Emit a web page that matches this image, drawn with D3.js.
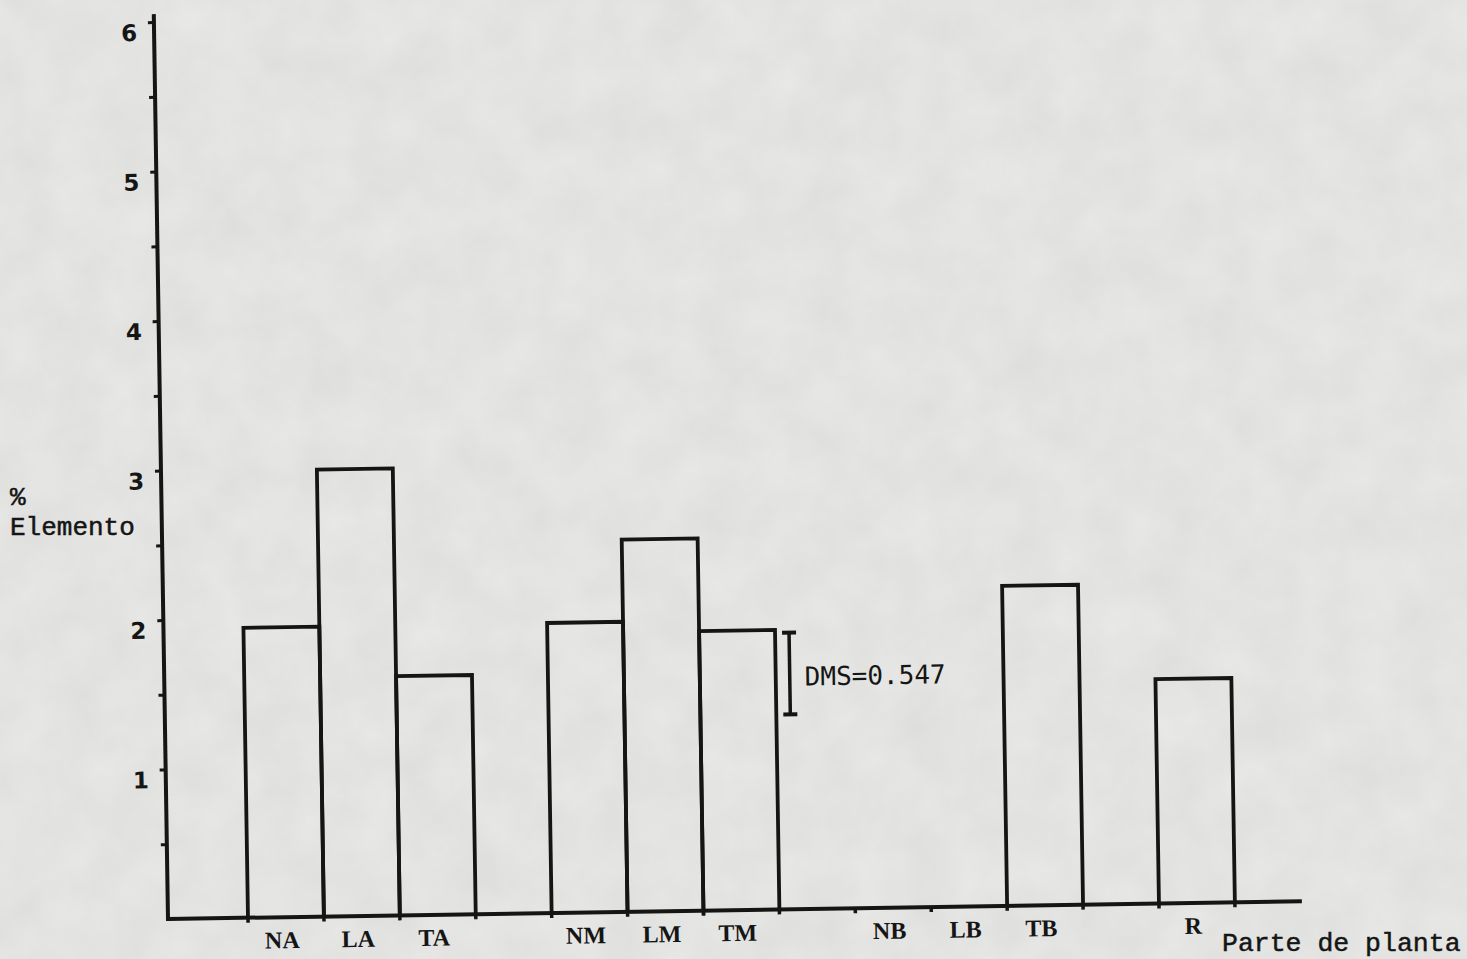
<!DOCTYPE html>
<html>
<head>
<meta charset="utf-8">
<script src="https://cdn.jsdelivr.net/npm/d3@7"></script>
<style>
  html, body { margin: 0; padding: 0; background: #e6e6e4; }
  svg { display: block; }
</style>
</head>
<body>
<svg id="chart" width="1467" height="959"></svg>
<script>
// groups of plant parts, in the order they sit along the x axis (a blank slot between groups)
var groups = [["NA", "LA", "TA"], ["NM", "LM", "TM"], ["NB", "LB", "TB"], ["R"]];
var categories = ["NA", "LA", "TA", "NM", "LM", "TM", "NB", "LB", "TB", "R"];
var values = [1.94, 2.99, 1.60, 1.94, 2.49, 1.87, 0, 0, 2.14, 1.50];
var yTicks = [0.5, 1, 1.5, 2, 2.5, 3, 3.5, 4, 4.5, 5, 5.5, 6];
var yLabels = [1, 2, 3, 4, 5, 6];
var dmsValue = 0.547;
var dmsTop = 1.85;

var slots = [];
groups.forEach(function(g, i) {
    if (i > 0) slots.push(null);
    g.forEach(function(c) { slots.push(c); });
});

var svg = d3.select("#chart"),
    width = +svg.attr("width"),
    height = +svg.attr("height"),
    ink = "#151515";

// paper look of the scan
var defs = svg.append("defs");
var f = defs.append("filter").attr("id", "paper")
    .attr("x", 0).attr("y", 0).attr("width", "100%").attr("height", "100%");
f.append("feTurbulence").attr("type", "fractalNoise")
    .attr("baseFrequency", 0.02).attr("numOctaves", 4).attr("seed", 7);
f.append("feColorMatrix").attr("type", "matrix")
    .attr("values", "0 0 0 0 0.5  0 0 0 0 0.5  0 0 0 0 0.5  0 0 0 0.26 0");

svg.append("rect").attr("width", width).attr("height", height).attr("fill", "#e9e9e7");
svg.append("rect").attr("width", width).attr("height", height).attr("filter", "url(#paper)");

var originX = 168, baseY = 919;

var x = d3.scaleBand().domain(d3.range(slots.length)).range([248, 1235]).padding(0),
    y = d3.scaleLinear().domain([0, 6]).range([baseY, 22]);

function slotOf(c) { return slots.indexOf(c); }

// the scanned page is a little tilted
var g = svg.append("g")
    .attr("transform", "rotate(-0.9," + originX + "," + baseY + ")");

// bars (open outlines)
var data = categories.map(function(c, i) { return {c: c, v: values[i]}; });

g.selectAll(".bar")
  .data(data.filter(function(d) { return d.v > 0; }))
  .enter().append("path")
    .attr("class", "bar")
    .attr("fill", "none")
    .attr("stroke", ink)
    .attr("stroke-width", 3.8)
    .attr("stroke-linejoin", "miter")
    .attr("d", function(d) {
        var x0 = x(slotOf(d.c)), x1 = x0 + x.bandwidth();
        return "M" + x0 + "," + y(0) + "V" + y(d.v) + "H" + x1 + "V" + y(0);
    });

// y axis
var yAxis = g.append("g")
    .attr("transform", "translate(" + originX + ",0)")
    .call(d3.axisLeft(y).tickValues(yTicks).tickSize(6).tickPadding(0)
        .tickFormat(function(d) { return yLabels.indexOf(d) >= 0 ? d : ""; }));
yAxis.select(".domain").remove();
yAxis.selectAll(".tick line").attr("stroke", ink).attr("stroke-width", 3);
yAxis.selectAll(".tick text")
    .attr("x", -17)
    .attr("y", 10)
    .attr("dy", "0.35em")
    .attr("fill", ink)
    .style("font-family", "'DejaVu Sans', sans-serif")
    .style("font-weight", "bold")
    .style("font-size", "23px");

g.append("line")
    .attr("x1", originX).attr("x2", originX)
    .attr("y1", y(0) + 2).attr("y2", y(6) - 8)
    .attr("stroke", ink).attr("stroke-width", 4);

// x axis baseline
g.append("line")
    .attr("x1", originX).attr("x2", 1302)
    .attr("y1", y(0)).attr("y2", y(0))
    .attr("stroke", ink).attr("stroke-width", 4);

// small marks on the baseline at each bar edge
var edges = [];
categories.forEach(function(c) {
    var x0 = x(slotOf(c));
    [x0, x0 + x.bandwidth()].forEach(function(e) {
        if (edges.indexOf(e) < 0) edges.push(e);
    });
});
g.selectAll(".edge")
  .data(edges)
  .enter().append("line")
    .attr("class", "edge")
    .attr("x1", function(d) { return d; }).attr("x2", function(d) { return d; })
    .attr("y1", y(0)).attr("y2", y(0) + 5)
    .attr("stroke", ink).attr("stroke-width", 3.5);

// category labels
g.selectAll(".xlabel")
  .data(categories)
  .enter().append("text")
    .attr("class", "xlabel")
    .attr("x", function(c) { return x(slotOf(c)) + x.bandwidth() / 2 - 4; })
    .attr("y", y(0) + 31)
    .attr("text-anchor", "middle")
    .attr("fill", ink)
    .style("font-family", "'Liberation Serif', serif")
    .style("font-weight", "bold")
    .style("font-size", "24px")
    .text(function(c) { return c; });

// DMS bar
var dmsX = x(7) + 14;
g.append("line")
    .attr("x1", dmsX).attr("x2", dmsX)
    .attr("y1", y(dmsTop)).attr("y2", y(dmsTop - dmsValue))
    .attr("stroke", ink).attr("stroke-width", 3.5);
g.selectAll(".cap")
  .data([dmsTop, dmsTop - dmsValue])
  .enter().append("line")
    .attr("class", "cap")
    .attr("x1", dmsX - 7).attr("x2", dmsX + 7)
    .attr("y1", function(d) { return y(d); }).attr("y2", function(d) { return y(d); })
    .attr("stroke", ink).attr("stroke-width", 4);
g.append("text")
    .attr("x", dmsX + 15)
    .attr("y", y(dmsTop) + 53)
    .attr("fill", ink)
    .style("font-family", "'DejaVu Sans Mono', monospace")
    .style("font-size", "26px")
    .text("DMS=" + dmsValue);

// axis titles (typewriter)
var typeFont = "'Liberation Mono', 'Courier New', monospace";
svg.append("text")
    .attr("x", 10).attr("y", 505)
    .attr("fill", ink).attr("stroke", ink).attr("stroke-width", 0.5)
    .style("font-family", typeFont).style("font-size", "26px")
    .text("%");
svg.append("text")
    .attr("x", 10).attr("y", 535)
    .attr("fill", ink).attr("stroke", ink).attr("stroke-width", 0.5)
    .style("font-family", typeFont).style("font-size", "26px")
    .text("Elemento");
svg.append("text")
    .attr("x", 1222).attr("y", 951)
    .attr("fill", ink).attr("stroke", ink).attr("stroke-width", 0.5)
    .style("font-family", typeFont).style("font-size", "26.5px")
    .text("Parte de planta");
</script>
</body>
</html>
